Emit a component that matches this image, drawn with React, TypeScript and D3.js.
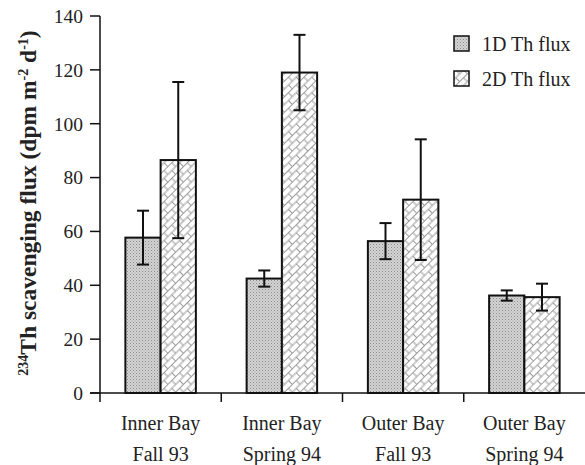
import React from "react"
import * as d3 from "d3"

// Data
const categories = [
  ["Inner Bay", "Fall 93"],
  ["Inner Bay", "Spring 94"],
  ["Outer Bay", "Fall 93"],
  ["Outer Bay", "Spring 94"]
]
const series = ["1D Th flux", "2D Th flux"]
const flux1D = [57.7, 42.5, 56.4, 36.2]
const err1D = [10, 3, 6.7, 1.9]
const flux2D = [86.5, 119, 71.8, 35.6]
const err2D = [29, 14, 22.4, 5]
const yTicks = [0, 20, 40, 60, 80, 100, 120, 140]

export default function App() {
  // Dimensions
  const totalW = 585
  const totalH = 465
  const margin = { top: 16, bottom: 72, left: 100, right: 0 }
  const w = totalW - margin.left - margin.right
  const h = totalH - margin.top - margin.bottom

  // Scales
  const xScale = d3
    .scaleBand<number>()
    .domain(d3.range(categories.length))
    .range([0, w])
  const inner = d3
    .scaleBand<number>()
    .domain([0, 1])
    .range([0, xScale.bandwidth()])
    .paddingOuter(0.72)
  const yScale = d3.scaleLinear().domain([0, 140]).range([h, 0])

  const values = [flux1D, flux2D]
  const errors = [err1D, err2D]
  const fills = ["url(#dots)", "url(#bricks)"]
  const font = "'Liberation Serif', 'Times New Roman', serif"

  return (
    <svg
      width={totalW}
      height={totalH}
      style={{ position: "absolute", left: 0, top: 0, background: "#fff" }}
      fontFamily={font}
    >
      <defs>
        <pattern id="dots" width="3" height="3" patternUnits="userSpaceOnUse">
          <rect width="3" height="3" fill="#d4d4d4" />
          <rect width="1" height="1" fill="#8a8a8a" />
          <rect x="1.5" y="1.5" width="1" height="1" fill="#a0a0a0" />
        </pattern>
        <pattern
          id="bricks"
          width="11"
          height="11"
          patternUnits="userSpaceOnUse"
          patternTransform="rotate(-45)"
        >
          <rect width="11" height="11" fill="#fff" />
          <path
            d="M0 0.5H11M0 6H11M2 0.5V6M7.5 6V11.5"
            stroke="#9a9a9a"
            strokeWidth="1"
            fill="none"
          />
        </pattern>
      </defs>

      <g transform={`translate(${margin.left}, ${margin.top})`}>
        {/* Bars */}
        {categories.map((c, i) =>
          values.map((vals, s) => (
            <rect
              key={`bar-${i}-${s}`}
              x={(xScale(i) ?? 0) + (inner(s) ?? 0)}
              y={yScale(vals[i])}
              width={inner.bandwidth()}
              height={h - yScale(vals[i])}
              fill={fills[s]}
              stroke="#111"
              strokeWidth={2}
            />
          ))
        )}

        {/* Error bars */}
        {categories.map((c, i) =>
          values.map((vals, s) => {
            const cx = (xScale(i) ?? 0) + (inner(s) ?? 0) + inner.bandwidth() / 2
            const top = yScale(vals[i] + errors[s][i])
            const bot = yScale(vals[i] - errors[s][i])
            return (
              <g key={`err-${i}-${s}`} stroke="#111" strokeWidth={2}>
                <line x1={cx} x2={cx} y1={top} y2={bot} />
                <line x1={cx - 6} x2={cx + 6} y1={top} y2={top} />
                <line x1={cx - 6} x2={cx + 6} y1={bot} y2={bot} />
              </g>
            )
          })
        )}

        {/* Y axis */}
        <line x1={0} x2={0} y1={0} y2={h + 9} stroke="#111" strokeWidth={1.5} />
        {yTicks.map(t => (
          <g key={`yt-${t}`} transform={`translate(0, ${yScale(t)})`}>
            <line x1={-10} x2={0} stroke="#111" strokeWidth={1.5} />
            <text x={-17} dy="0.35em" textAnchor="end" fontSize={19.5} fill="#222">
              {t}
            </text>
          </g>
        ))}

        {/* X axis */}
        <line x1={-10} x2={w} y1={h} y2={h} stroke="#111" strokeWidth={1.5} />
        {categories.map((c, i) => (
          <g key={`xt-${i}`}>
            {i > 0 && (
              <line
                x1={xScale(i)}
                x2={xScale(i)}
                y1={h}
                y2={h + 9}
                stroke="#111"
                strokeWidth={1.5}
              />
            )}
            <text
              x={(xScale(i) ?? 0) + xScale.bandwidth() / 2}
              y={h + 37}
              textAnchor="middle"
              fontSize={20}
              fill="#222"
            >
              {c[0]}
            </text>
            <text
              x={(xScale(i) ?? 0) + xScale.bandwidth() / 2}
              y={h + 68}
              textAnchor="middle"
              fontSize={20}
              fill="#222"
            >
              {c[1]}
            </text>
          </g>
        ))}
      </g>

      {/* Legend */}
      {series.map((s, i) => (
        <g key={`leg-${i}`} transform={`translate(454, ${36 + i * 35})`}>
          <rect width={15} height={15} fill={fills[i]} stroke="#111" strokeWidth={1.5} />
          <text x={28} y={15} fontSize={20} fill="#222">
            {s}
          </text>
        </g>
      ))}

      {/* Y label */}
      <text
        transform={`translate(36, 203) rotate(-90)`}
        textAnchor="middle"
        fontSize={23.5}
        fontWeight="bold"
        fill="#222"
      >
        <tspan fontSize={14} dy={-8}>234</tspan>
        <tspan dy={8}>Th scavenging flux (dpm m</tspan>
        <tspan fontSize={14} dy={-8}>-2</tspan>
        <tspan dy={8}> d</tspan>
        <tspan fontSize={14} dy={-8}>-1</tspan>
        <tspan dy={8}>)</tspan>
      </text>
    </svg>
  )
}
